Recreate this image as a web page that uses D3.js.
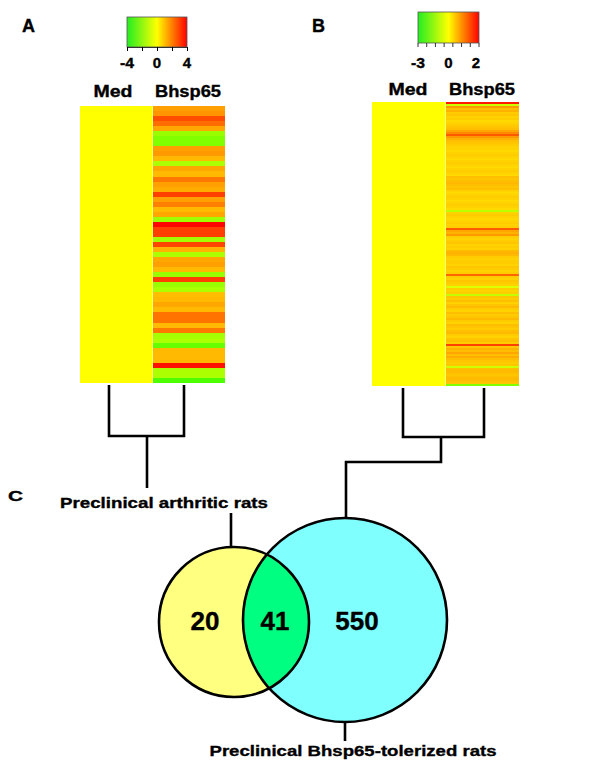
<!DOCTYPE html>
<html>
<head>
<meta charset="utf-8">
<script src="https://cdn.jsdelivr.net/npm/d3@7/dist/d3.min.js"></script>
<style>
body{margin:0;background:#fff;}
svg{display:block;font-family:"Liberation Sans",Arial,sans-serif;font-weight:bold;}
text{stroke:#000;stroke-width:0.35;}
</style>
</head>
<body>
<svg id="fig" width="600" height="771"></svg>
<script>
const svg=d3.select("#fig");

// ---------- データ ----------

const columns=["Med","Bhsp65"];
// A: Bhsp65 vs Med (log ratio)
const valuesA=[
    1.5,1.7,2.8,2.3,1.4,-1.6,-2.0,-2.0,1.5,1.6,
    1.1,-1.3,1.4,1.1,2.1,1.5,1.3,3.0,1.5,2.0,
    1.1,1.4,-1.5,3.9,3.0,3.0,-1.4,2.9,1.2,-1.3,
    1.4,1.5,1.1,-1.6,3.0,-1.6,-1.3,1.0,1.1,1.4,
    1.1,2.2,2.2,1.1,2.1,-1.4,-1.3,-2.4,1.1,1.1,
    1.1,3.7,-1.3,-1.3,-2.8
];
// B: Bhsp65-tolerized (binned rows)
const valuesB=[
    1.8,-0.6,0.8,0.5,0.6,0.4,0.45,0.35,0.4,0.3,
    0.35,0.4,0.45,0.5,0.7,0.9,1.3,0.8,0.6,0.5,
    0.45,0.4,0.35,0.35,0.3,0.35,0.4,0.35,0.3,0.35,
    0.4,0.35,0.3,0.35,0.4,0.35,0.3,0.5,0.45,0.5,
    0.55,0.5,0.45,0.5,0.35,0.3,0.35,0.4,0.35,0.3,
    0.35,0.4,0.35,0.3,-0.8,0.35,0.4,0.35,0.3,0.35,
    0.4,0.35,0.4,1.3,0.7,0.6,0.8,0.4,0.35,0.4,
    0.45,0.35,0.4,0.35,0.55,0.6,0.55,0.4,0.35,0.4,
    0.4,0.35,0.45,0.4,0.35,0.4,1.2,0.4,0.35,0.45,
    0.4,0.35,-0.4,0.4,0.35,0.4,-0.7,0.45,0.4,0.5,
    0.35,0.45,0.55,0.4,0.35,0.5,0.4,0.45,0.55,0.4,
    0.35,0.5,0.45,0.4,0.5,0.55,0.4,0.35,0.45,0.5,
    0.4,1.5,0.45,0.6,0.5,0.7,0.5,0.65,0.5,0.45,
    0.4,0.45,-0.6,0.5,0.55,0.5,0.45,0.5,0.55,0.5,
    0.45,-1.5
];
const legendATicks=[-4,-2,0,2,4];
const legendALabels=[-4,0,4];
const legendBDomain=[-3,0,2];
const legendBTickCount=8;
const legendBLabels=[-3,0,2];
const vennSets=["Preclinical arthritic rats","Preclinical Bhsp65-tolerized rats"];
const vennCounts=[20,41,550];

const colorA=d3.scaleLinear().domain([-4,0,4]).range(["#00ff00","#ffff00","#ff0000"]);
const colorB=d3.scaleLinear().domain(legendBDomain).range(["#00ff00","#ffff00","#ff0000"]);

function label(x,y,text,size,width,anchor){
    const t=svg.append("text")
        .attr("x",x).attr("y",y)
        .attr("font-size",size)
        .attr("text-anchor",anchor||"middle")
        .text(text);
    if(width) t.attr("textLength",width).attr("lengthAdjust","spacingAndGlyphs");
    return t;
}

// ---------- ヒートマップ ----------

function heatmap(values,color,x0,x1,y0,y1){
    const x=d3.scaleBand().domain(columns).range([x0,x1]);
    const y=d3.scaleBand().domain(d3.range(values.length)).range([y0,y1]);
    const g=svg.append("g");
    g.append("rect")
        .attr("x",x("Med")).attr("y",y0)
        .attr("width",x.bandwidth()).attr("height",y1-y0)
        .attr("fill",color(0));
    g.selectAll("rect.row").data(values).join("rect")
        .attr("class","row")
        .attr("x",x("Bhsp65"))
        .attr("y",(d,i)=>y(i))
        .attr("width",x.bandwidth())
        .attr("height",y.bandwidth()+0.3)
        .attr("fill",d=>color(d))
        .attr("shape-rendering","crispEdges");
    return x;
}

const xA=heatmap(valuesA,colorA,80,225,106,383);
const xB=heatmap(valuesB,colorB,372,519,102,386);

label(113,97,"Med",16,39);
label(188,97,"Bhsp65",16,66);
label(408,95,"Med",16,39);
label(482,95,"Bhsp65",16,66);

// ---------- 凡例 ----------

function gradient(id,stops){
    const lg=svg.append("defs").append("linearGradient").attr("id",id);
    stops.forEach((c,i)=>lg.append("stop")
        .attr("offset",i/(stops.length-1))
        .attr("stop-color",c));
}
gradient("gradA",["#22ee22","#ffff00","#ff0000"]);
gradient("gradB",["#22ee22","#ffff00","#ff0000"]);

// A
const lxA=d3.scaleLinear().domain([-4,4]).range([127,187]);
svg.append("rect").attr("x",127).attr("y",17).attr("width",60).attr("height",30)
    .attr("fill","url(#gradA)").attr("stroke","#555").attr("stroke-width",0.8);
svg.append("g").attr("transform","translate(0,47)")
    .call(d3.axisBottom(lxA).tickValues(legendATicks).tickSize(4).tickFormat(""))
    .call(g=>g.select(".domain").attr("stroke","#333"));
legendALabels.forEach(v=>label(lxA(v),68,v,15,v<0?14:null));

// B
const lxB=d3.scaleLinear().domain(legendBDomain).range([418,448.5,479]);
svg.append("rect").attr("x",418).attr("y",12).attr("width",61).attr("height",31)
    .attr("fill","url(#gradB)").attr("stroke","#555").attr("stroke-width",0.8);
const tickB=d3.scaleLinear().domain([0,legendBTickCount-1]).range([418,479]);
svg.append("g").selectAll("line").data(d3.range(legendBTickCount)).join("line")
    .attr("x1",d=>tickB(d)).attr("x2",d=>tickB(d))
    .attr("y1",43).attr("y2",47)
    .attr("stroke","#333");
legendBLabels.forEach(v=>label(lxB(v)+(v===2?-3:0),68,v,15,v<0?14:null));

// ---------- パネル記号 ----------

label(22,32,"A",18,13,"start");
label(312,32,"B",18,13,"start");
label(8,501,"C",15,15,"start");

// ---------- 樹形図 ----------

const line=d3.line();
function path(pts){
    svg.append("path").attr("d",line(pts))
        .attr("fill","none").attr("stroke","#000")
        .attr("stroke-width",2.6);
}
path([[109,385],[109,436],[184,436],[184,385]]);
path([[147,436],[147,488]]);
path([[403,388],[403,437],[484,437],[484,388]]);
path([[441,437],[441,462],[346,462],[346,519]]);

// ---------- ベン図 ----------

const circles=[{cx:234,cy:622,r:75,fill:"#ffff80"},{cx:345,cy:620,r:102,fill:"#80ffff"}];
path([[231,513],[231,547]]);
path([[345,722],[345,741]]);

svg.append("defs").append("clipPath").attr("id","clipY")
    .append("circle").attr("cx",circles[0].cx).attr("cy",circles[0].cy).attr("r",circles[0].r);

svg.selectAll("circle.set").data(circles).join("circle")
    .attr("class","set")
    .attr("cx",d=>d.cx).attr("cy",d=>d.cy).attr("r",d=>d.r)
    .attr("fill",d=>d.fill);
svg.append("circle")
    .attr("cx",circles[1].cx).attr("cy",circles[1].cy).attr("r",circles[1].r)
    .attr("fill","#00ff80").attr("clip-path","url(#clipY)");
svg.selectAll("circle.edge").data(circles).join("circle")
    .attr("class","edge")
    .attr("cx",d=>d.cx).attr("cy",d=>d.cy).attr("r",d=>d.r)
    .attr("fill","none").attr("stroke","#000").attr("stroke-width",2.6);

const countX=[205,275,357];
vennCounts.forEach((c,i)=>label(countX[i],630,c,26,null));

label(164,508,vennSets[0],15.5,208);
label(353,756,vennSets[1],15.5,287);
</script>
</body>
</html>
